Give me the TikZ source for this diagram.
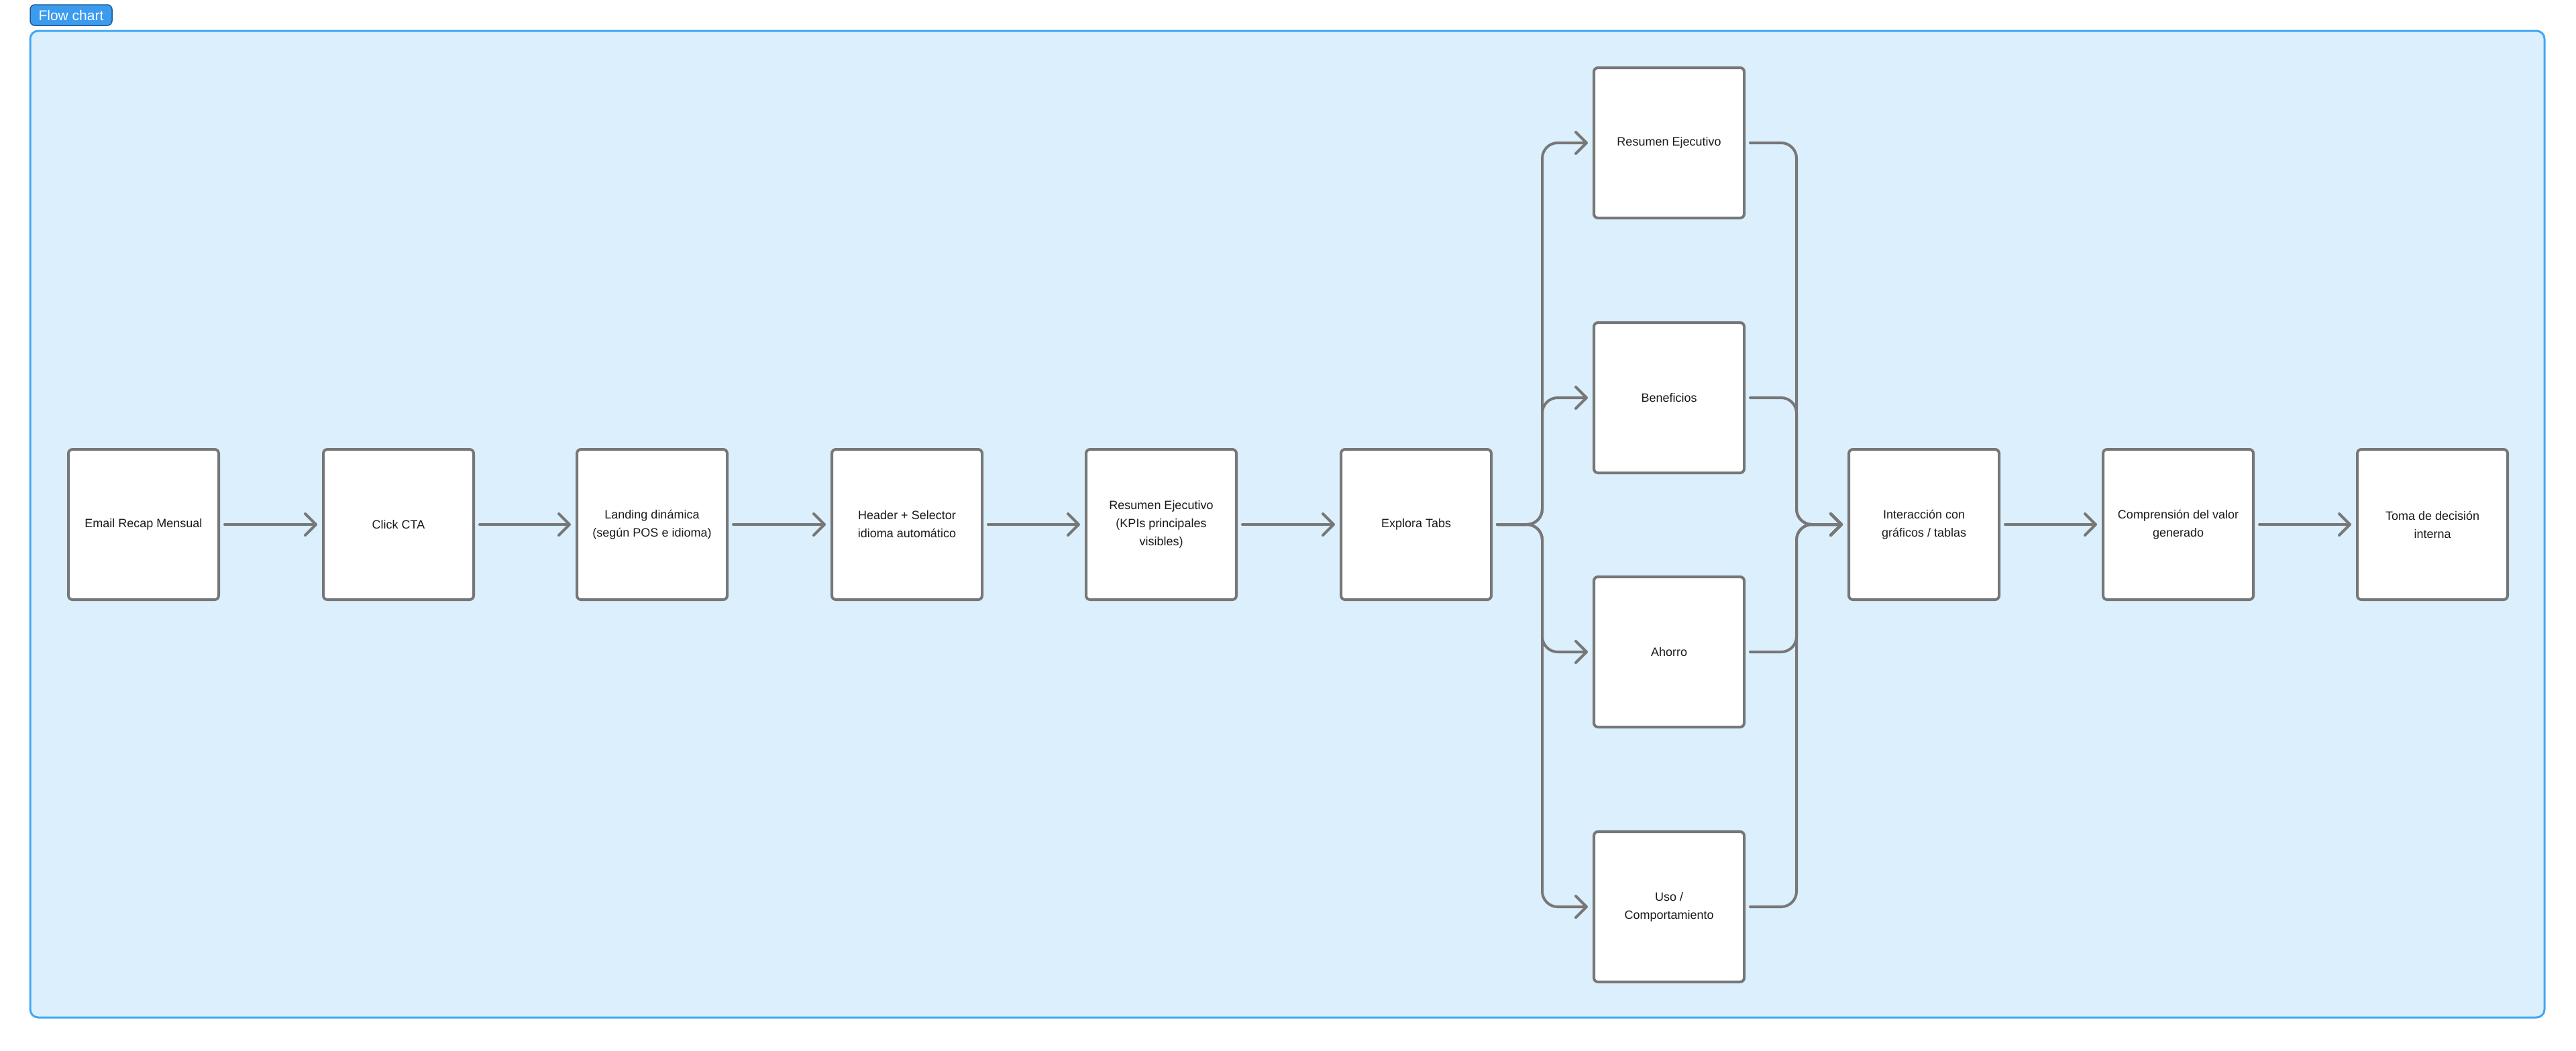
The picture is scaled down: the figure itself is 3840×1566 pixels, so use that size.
\documentclass[tikz,border=0pt]{standalone}
\usepackage{fontspec}
\setmainfont{Liberation Sans}
\usetikzlibrary{arrows.meta}
\definecolor{framefill}{HTML}{DBEFFD}
\definecolor{frameline}{HTML}{42A7F5}
\definecolor{tagfill}{HTML}{3A9BEF}
\definecolor{tagline}{HTML}{1F5A8C}
\definecolor{boxline}{HTML}{777777}
\definecolor{txt}{HTML}{1A1A1A}
\tikzset{
  stepbox/.style={draw=boxline, line width=4pt, fill=white, rounded corners=6pt,
    minimum width=224pt, minimum height=224pt, inner sep=0pt, align=center,
    text=txt, font=\fontsize{18pt}{27pt}\selectfont},
  conn/.style={draw=boxline, line width=4pt, line cap=round, line join=round,
    -{Straight Barb[length=16pt,width=32pt,line width=4pt,round]}},
  joinline/.style={draw=boxline, line width=4pt, line cap=round, line join=round, rounded corners=23pt},
}
\begin{document}
\begin{tikzpicture}[x=1pt,y=-1pt]
\useasboundingbox (0,0) rectangle (3840,1566);
% frame
\draw[frameline, line width=3pt, fill=framefill, rounded corners=12pt] (45,46) rectangle (3793,1517);
% tag
\node[draw=tagline, line width=1.5pt, fill=tagfill, rounded corners=7pt, text=white,
  font=\fontsize{21pt}{24pt}\selectfont, minimum width=122pt, minimum height=31pt, inner sep=0pt]
  (tag) at (106,22.5) {Flow chart};
% main row
\node[stepbox] (n1) at (214,782) {Email Recap Mensual};
\node[stepbox] (n2) at (594,782) {Click CTA};
\node[stepbox] (n3) at (972,782) {Landing dinámica\\(según POS e idioma)};
\node[stepbox] (n4) at (1352,782) {Header + Selector\\idioma automático};
\node[stepbox] (n5) at (1731,782) {Resumen Ejecutivo\\(KPIs principales\\visibles)};
\node[stepbox] (n6) at (2111,782) {Explora Tabs};
\node[stepbox] (n7) at (2868,782) {Interacción con\\gráficos / tablas};
\node[stepbox] (n8) at (3247,782) {Comprensión del valor\\generado};
\node[stepbox] (n9) at (3626,782) {Toma de decisión\\interna};
% branches
\node[stepbox] (b1) at (2488,213) {Resumen Ejecutivo};
\node[stepbox] (b2) at (2488,593) {Beneficios};
\node[stepbox] (b3) at (2488,972) {Ahorro};
\node[stepbox] (b4) at (2488,1352) {Uso /\\Comportamiento};
% straight arrows
\foreach \a/\b in {n1/n2,n2/n3,n3/n4,n4/n5,n5/n6,n7/n8,n8/n9}
  \draw[conn] ([xshift=7pt]\a.east) -- ([xshift=-7pt]\b.west);
% split and merge points
\coordinate (sx) at (2299,782);
\coordinate (mx) at (2678,782);
\foreach \b in {b1,b2,b3,b4}{
  \draw[conn, rounded corners=23pt] ([xshift=7pt]n6.east) -- (sx) |- ([xshift=-7pt]\b.west);
  \draw[conn, rounded corners=23pt] ([xshift=7pt]\b.east) -| (mx) -- ([xshift=-7pt]n7.west);
}
\end{tikzpicture}
\end{document}
